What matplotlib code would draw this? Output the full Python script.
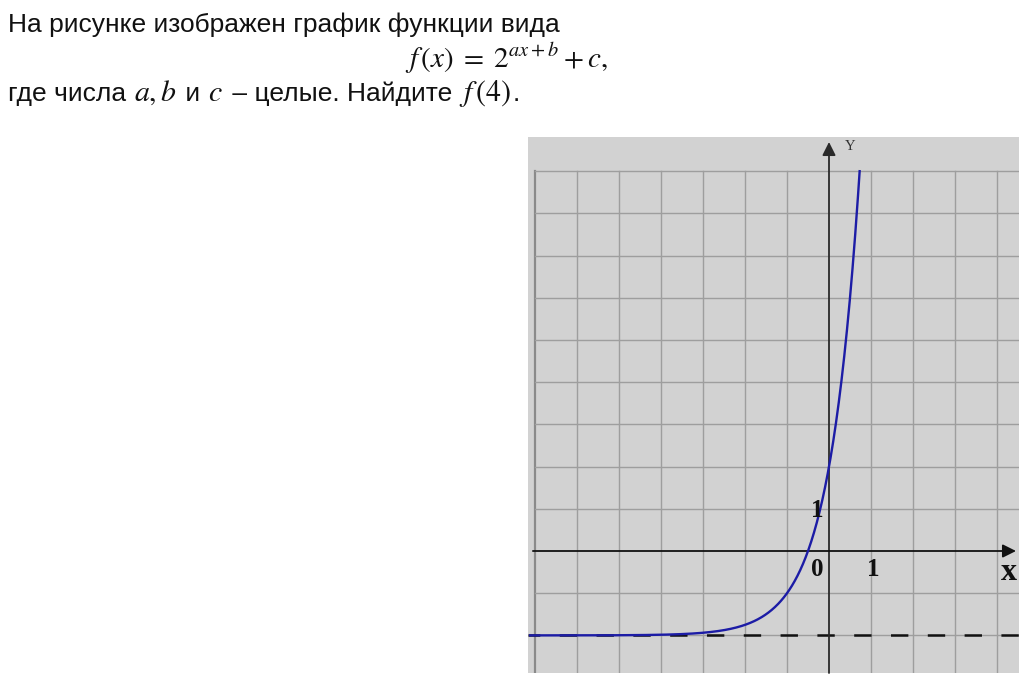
import numpy as np
import matplotlib
matplotlib.use("Agg")
import matplotlib.pyplot as plt

# ---- data ----
a_coef = 2          # f(x) = 2^(a x + b) + c
b_coef = 2
c_coef = -2
grid_x = [-7, -6, -5, -4, -3, -2, -1, 1, 2, 3, 4]
grid_y = [-2, -1, 1, 2, 3, 4, 5, 6, 7, 8, 9]
tick_labels = [("0", -0.27, -0.45), ("1", 1.05, -0.45), ("1", -0.27, 0.97)]
text_line1 = "На рисунке изображен график функции вида"
text_formula = r"$f\,(x)\; = \;2^{ax+b} + c,$"
text_line3_parts = ["где числа ", r"$a, b$", " и ", r"$c$", " – целые. Найдите ", r"$f\,(4)$", "."]

plt.rcParams['mathtext.fontset'] = 'stix'
plt.rcParams['font.family'] = ['Liberation Sans', 'DejaVu Sans']
plt.rcParams['lines.scale_dashes'] = False

W, H = 1024, 685
fig = plt.figure(figsize=(W / 100, H / 100), dpi=100)
fig.patch.set_facecolor('white')

# ---- text ----
fs = 19
mfs = 21
fig.text(8 / W, 1 - 32 / H, text_line1, fontsize=fs, va='baseline', ha='left', color='#111111')
fig.text(405 / W, 1 - 68 / H, text_formula, fontsize=mfs, va='baseline', ha='left', color='#111111')

renderer = fig.canvas.get_renderer()
xpos = 8
for part in text_line3_parts:
    is_math = part.startswith('$')
    t = fig.text(xpos / W, 1 - 101 / H, part, fontsize=(mfs + 0.5 if is_math else fs),
                 va='baseline', ha='left', color='#111111')
    bb = t.get_window_extent(renderer=renderer)
    xpos += bb.width + (2 if is_math else 0)

# ---- plot panel ----
px_left, px_right, px_top, px_bot = 528, 1019, 137, 673
x0_px, y0_px = 829, 551
ux, uy = 42.0, 42.2
ax = fig.add_axes([px_left / W, 1 - px_bot / H, (px_right - px_left) / W, (px_bot - px_top) / H])
xmin, xmax = (px_left - x0_px) / ux, (px_right - x0_px) / ux
ymin, ymax = (y0_px - px_bot) / uy, (y0_px - px_top) / uy
ax.set_xlim(xmin, xmax)
ax.set_ylim(ymin, ymax)
ax.set_facecolor('#d2d2d2')
for s in ax.spines.values():
    s.set_visible(False)
ax.set_xticks([])
ax.set_yticks([])

gc = '#9e9e9e'
top_grid = max(grid_y)
for gx in grid_x:
    ax.plot([gx, gx], [ymin, top_grid], color=gc if gx != -7 else '#8a8a8a',
            lw=1.0 if gx != -7 else 1.6, zorder=1)
for gy in grid_y:
    ax.plot([grid_x[0], xmax], [gy, gy], color=gc, lw=1.0, zorder=1)

# axes with arrows
ax.annotate('', xy=(0, (y0_px - 142) / uy), xytext=(0, ymin),
            arrowprops=dict(arrowstyle='-|>', lw=1.3, color='#2a2a2a', mutation_scale=20,
                            shrinkA=0, shrinkB=0), zorder=3)
ax.annotate('', xy=((1016 - x0_px) / ux, 0), xytext=(grid_x[0] - 0.05, 0),
            arrowprops=dict(arrowstyle='-|>', lw=1.3, color='#111111', mutation_scale=20,
                            shrinkA=0, shrinkB=0), zorder=3)

# asymptote
ax.plot([xmin, xmax], [c_coef, c_coef], color='#111111', lw=1.8,
        linestyle=(4, (12.5, 14)), zorder=2)

# curve
x_top = (np.log2(top_grid - c_coef) - b_coef) / a_coef
xs = np.linspace(xmin + 0.05, x_top, 600)
ys = 2.0 ** (a_coef * xs + b_coef) + c_coef
ax.plot(xs, ys, color='#1c1ca6', lw=1.7, zorder=4)

# labels
for lab, lx, ly in tick_labels:
    ax.text(lx, ly, lab, fontsize=18, fontweight='bold', family='Liberation Serif',
            ha='center', va='center', color='#111111', zorder=5)
ax.text((1009 - x0_px) / ux, (y0_px - 572) / uy, 'x', fontsize=23, fontweight='bold',
        family='Liberation Serif', ha='center', va='center', color='#111111', zorder=5)
ax.text((850 - x0_px) / ux, (y0_px - 146) / uy, 'Y', fontsize=10.5, family='Liberation Serif',
        ha='center', va='center', color='#333333', zorder=5)

fig.savefig('out.png', dpi=100, facecolor='white')
